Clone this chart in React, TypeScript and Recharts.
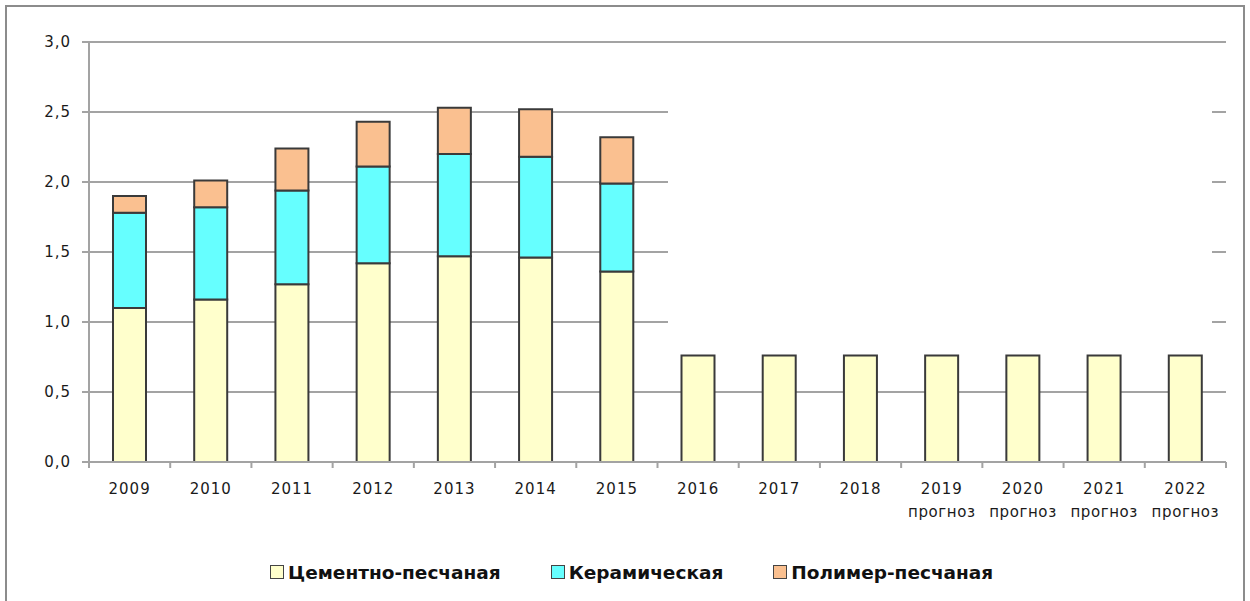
import React from 'react';
import { BarChart, Bar, XAxis, YAxis, CartesianGrid, Legend } from 'recharts';

const categories = [
    '2009', '2010', '2011', '2012', '2013', '2014', '2015', '2016', '2017', '2018',
    '2019\nпрогноз', '2020\nпрогноз', '2021\nпрогноз', '2022\nпрогноз',
];
const cementValues = [1.1, 1.16, 1.27, 1.42, 1.47, 1.46, 1.36, 0.76, 0.76, 0.76, 0.76, 0.76, 0.76, 0.76];
const ceramicValues = [0.68, 0.66, 0.67, 0.69, 0.73, 0.72, 0.63, 0, 0, 0, 0, 0, 0, 0];
const polymerValues = [0.12, 0.19, 0.3, 0.32, 0.33, 0.34, 0.33, 0, 0, 0, 0, 0, 0, 0];
const yTicks = [0, 0.5, 1, 1.5, 2, 2.5, 3];

const seriesNames = ['Цементно-песчаная', 'Керамическая', 'Полимер-песчаная'];
const seriesColors = ['#FFFFCC', '#66FFFF', '#FAC090'];

const chartData = categories.map((year, i) => ({
    year,
    cement: cementValues[i],
    ceramic: ceramicValues[i],
    polymer: polymerValues[i],
}));

const FONT = '"DejaVu Sans", Verdana, sans-serif';
const GRID = '#a3a3a3';
const BAR_STROKE = '#3a3a3a';

const YearTick = (props: any) => {
    const { x, y, payload, index, visibleTicksCount } = props;
    const half = payload.offset || 0;
    const lines = String(payload.value).split('\n');
    const isLast = index === visibleTicksCount - 1;
    return (
        <g>
            <line x1={x - half} y1={y} x2={x - half} y2={y + 6} stroke={GRID} strokeWidth={2} />
            {isLast && <line x1={x + half} y1={y} x2={x + half} y2={y + 6} stroke={GRID} strokeWidth={2} />}
            {lines.map((line, i) => (
                <text
                    key={i}
                    x={x}
                    y={y + (i === 0 ? 32 : 55)}
                    textAnchor="middle"
                    fill="#1a1a1a"
                    fontFamily={FONT}
                    fontSize={15}
                    letterSpacing={i === 0 ? 1 : 0.6}
                >
                    {line}
                </text>
            ))}
        </g>
    );
};

const LegendContent = () => (
    <div style={{ height: 30, display: 'flex', alignItems: 'center', paddingLeft: 270 }}>
        {seriesNames.map((name, i) => (
            <div key={name} style={{ display: 'flex', alignItems: 'center', marginRight: 50 }}>
                <span
                    style={{
                        width: 12,
                        height: 12,
                        background: seriesColors[i],
                        border: '1.5px solid #444',
                        marginRight: 4,
                        display: 'inline-block',
                    }}
                />
                <span style={{ fontFamily: FONT, fontWeight: 'bold', fontSize: 18.5, color: '#111' }}>{name}</span>
            </div>
        ))}
    </div>
);

const App = () => {
    return (
        <div style={{ position: 'absolute', left: 0, top: 0, width: 1250, height: 601, overflow: 'hidden', background: '#fff' }}>
            <div
                style={{
                    position: 'absolute',
                    left: 5,
                    top: 5,
                    width: 1240,
                    height: 640,
                    border: '2px solid #8c8c8c',
                    boxSizing: 'border-box',
                }}
            />
            <div style={{ position: 'absolute', left: 0, top: 0 }}>
                <BarChart
                    width={1250}
                    height={601}
                    data={chartData}
                    margin={{ top: 42, right: 24, left: 0, bottom: 14 }}
                >
                    <CartesianGrid vertical={false} stroke={GRID} strokeWidth={2} />
                    <XAxis
                        dataKey="year"
                        height={95}
                        interval={0}
                        axisLine={{ stroke: GRID, strokeWidth: 2 }}
                        tickLine={false}
                        tickSize={0}
                        tickMargin={0}
                        tick={<YearTick />}
                    />
                    <YAxis
                        width={89}
                        domain={[0, 3]}
                        ticks={yTicks}
                        interval={0}
                        tickSize={7}
                        tickMargin={11}
                        axisLine={{ stroke: GRID, strokeWidth: 2 }}
                        tickLine={{ stroke: GRID, strokeWidth: 2 }}
                        tick={{ fill: '#1a1a1a', fontFamily: FONT, fontSize: 15, letterSpacing: 1 }}
                        tickFormatter={(v: number) => v.toFixed(1).replace('.', ',')}
                    />
                    <Legend verticalAlign="bottom" content={<LegendContent />} />
                    <Bar dataKey="cement" name={seriesNames[0]} stackId="a" fill={seriesColors[0]} stroke={BAR_STROKE} strokeWidth={2} barSize={33} isAnimationActive={false} />
                    <Bar dataKey="ceramic" name={seriesNames[1]} stackId="a" fill={seriesColors[1]} stroke={BAR_STROKE} strokeWidth={2} barSize={33} isAnimationActive={false} />
                    <Bar dataKey="polymer" name={seriesNames[2]} stackId="a" fill={seriesColors[2]} stroke={BAR_STROKE} strokeWidth={2} barSize={33} isAnimationActive={false} />
                </BarChart>
            </div>
            {/* blank patch over the mid gridlines on the right, as in the source */}
            <div style={{ position: 'absolute', left: 668, top: 60, width: 544, height: 285, background: '#fff' }} />
        </div>
    );
};

export default App;
